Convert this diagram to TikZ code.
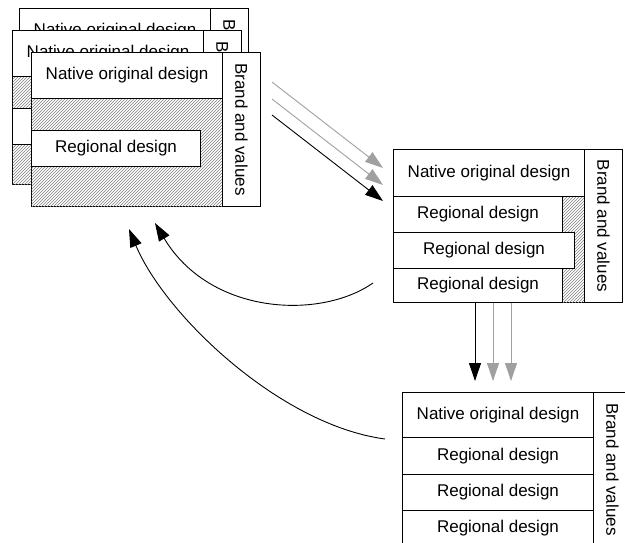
\documentclass[tikz,border=0pt]{standalone}
\usepackage{fontspec}
\setmainfont{Liberation Sans}
\usetikzlibrary{patterns,arrows.meta}
\definecolor{arrowgray}{RGB}{160,160,160}
\tikzset{
  box/.style={draw, line width=1pt, fill=white, inner sep=0pt, anchor=north west, font=\fontsize{17}{20}\selectfont},
  hatch/.style={box, postaction={pattern=north east lines, pattern color=gray}},
  brand/.style={rotate=-90, inner sep=0pt, font=\fontsize{17}{20}\selectfont},
  tip/.style={-{Triangle[length=18pt,width=12pt]}, line width=0.9pt},
}
\begin{document}
\begin{tikzpicture}[x=1pt,y=-1pt]
\clip (0,0) rectangle (625,542);
% stacked copies, back to front
\node[hatch, minimum width=191pt, minimum height=154pt] (m1) at (19,8) {};
\node[box, minimum width=191pt, minimum height=46pt] (n1) at (19,8) {Native original design};
\node[box, minimum width=169pt, minimum height=36pt] (r1) at (19,86) {Regional design};
\node[box, minimum width=38pt, minimum height=154pt] (s1) at (210,8) {};
\node[brand] (t1) at (s1) {Brand and values};
\node[hatch, minimum width=191pt, minimum height=154pt] (m2) at (12,30) {};
\node[box, minimum width=191pt, minimum height=46pt] (n2) at (12,30) {Native original design};
\node[box, minimum width=169pt, minimum height=36pt] (r2) at (12,108) {Regional design};
\node[box, minimum width=38pt, minimum height=154pt] (s2) at (203,30) {};
\node[brand] (t2) at (s2) {Brand and values};
\node[hatch, minimum width=191pt, minimum height=154pt] (m3) at (31,52) {};
\node[box, minimum width=191pt, minimum height=46pt] (n3) at (31,52) {Native original design};
\node[box, minimum width=169pt, minimum height=36pt] (r3) at (31,130) {Regional design};
\node[box, minimum width=38pt, minimum height=154pt] (s3) at (222,52) {};
\node[brand] (t3) at (s3) {Brand and values};
% second box
\node[hatch, minimum width=191pt, minimum height=153pt] (m4) at (393,149) {};
\node[box, minimum width=191pt, minimum height=47pt] (n4) at (393,149) {Native original design};
\node[box, minimum width=169pt, minimum height=36pt] (q1) at (393,196) {Regional design};
\node[box, minimum width=181pt, minimum height=36pt] (q2) at (393,232) {Regional design};
\node[box, minimum width=169pt, minimum height=34pt] (q3) at (393,268) {Regional design};
\node[box, minimum width=38pt, minimum height=153pt] (s4) at (584,149) {};
\node[brand] (t4) at (s4) {Brand and values};
% third box
\node[box, minimum width=191pt, minimum height=45pt] (n5) at (402,392) {Native original design};
\node[box, minimum width=191pt, minimum height=37pt] (p1) at (402,437) {Regional design};
\node[box, minimum width=191pt, minimum height=36pt] (p2) at (402,474) {Regional design};
\node[box, minimum width=191pt, minimum height=36pt] (p3) at (402,510) {Regional design};
\node[box, minimum width=38pt, minimum height=154pt] (s5) at (593,392) {};
\node[brand] (t5) at (s5) {Brand and values};
% arrow ends
\coordinate (a1) at (272,82);
\coordinate (a2) at (272,99);
\coordinate (a3) at (272,115);
\coordinate (b1) at (383,168);
\coordinate (b2) at (383,185);
\coordinate (b3) at (383,201);
\coordinate (d1) at (475,381);
\coordinate (d2) at (493,381);
\coordinate (d3) at (511,381);
\coordinate (c1) at (373,283);
\coordinate (e1) at (155,223);
\coordinate (c2) at (385,439);
\coordinate (e2) at (129,229);
\draw[tip, arrowgray] (a1) -- (b1);
\draw[tip, arrowgray] (a2) -- (b2);
\draw[tip] (a3) -- (b3);
\draw[tip] (d1 |- q3.south) -- (d1);
\draw[tip, arrowgray] (d2 |- q3.south) -- (d2);
\draw[tip, arrowgray] (d3 |- q3.south) -- (d3);
\draw[tip] (c1) .. controls (320,320) and (210,315) .. (e1);
\draw[tip] (c2) .. controls (280,425) and (165,315) .. (e2);
\end{tikzpicture}
\end{document}
